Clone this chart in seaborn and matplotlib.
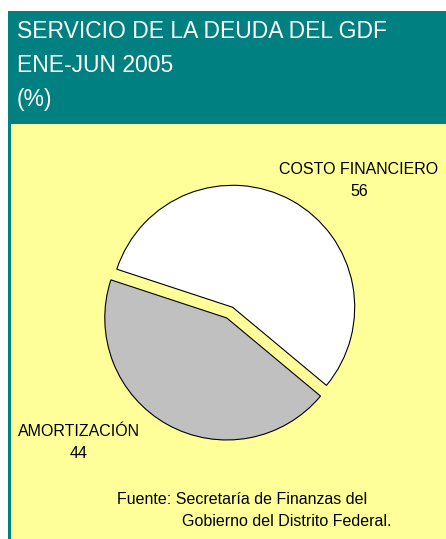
import matplotlib
matplotlib.use("Agg")
import matplotlib.pyplot as plt
from matplotlib.patches import Rectangle
import seaborn as sns

# data
categories = ["COSTO FINANCIERO", "AMORTIZACIÓN"]
shares = [56, 44]
slice_colors = ["#FFFFFF", "#C0C0C0"]
explode = [0.0, 0.1]

title_lines = ["SERVICIO DE LA DEUDA DEL GDF", "ENE-JUN 2005", "(%)"]
source_lines = ["Fuente: Secretaría de Finanzas del", "Gobierno del Distrito Federal."]

W, H = 446, 539
TEAL = "#008080"
YELLOW = "#FFFF99"

sns.set_theme(style="white")
plt.rcParams["font.family"] = ["Liberation Sans", "DejaVu Sans"]


def fx(px):
    return px / W


def fy(py):
    return 1 - py / H


fig = plt.figure(figsize=(W / 100, H / 100), dpi=100)
fig.patch.set_facecolor("white")

# frame: teal header + border, yellow body (kept behind the pie axes)
fig.patches.append(Rectangle((fx(8), 0), 1 - fx(8), fy(11), transform=fig.transFigure,
                             facecolor=TEAL, edgecolor="none", zorder=-10))
fig.patches.append(Rectangle((fx(11), 0), 1 - fx(11), fy(124), transform=fig.transFigure,
                             facecolor=YELLOW, edgecolor="none", zorder=-9))

for i, line in enumerate(title_lines):
    fig.text(fx(17), fy(38 + i * 34), line, color="white", fontsize=16.5,
             ha="left", va="baseline")

# pie axes: centre at (232.7, 307.3) px, radius 122 px
cx, cy, r = 232.7, 307.3, 122
span = 1.5 * r
ax = fig.add_axes([fx(cx - span), fy(cy + span), 2 * span / W, 2 * span / H])
ax.set_facecolor("none")
ax.pie(shares, colors=slice_colors, explode=explode, startangle=-39.8,
       counterclock=True,
       wedgeprops=dict(edgecolor="black", linewidth=0.8))
ax.set_xlim(-1.5, 1.5)
ax.set_ylim(-1.5, 1.5)
ax.set_aspect("auto")
ax.axis("off")

# slice labels
lab = dict(fontsize=11.5, ha="center", va="center", color="black")
fig.text(fx(359), fy(169), categories[0], **lab)
fig.text(fx(359), fy(191), str(shares[0]), **lab)
fig.text(fx(79), fy(432), categories[1], **lab)
fig.text(fx(79), fy(453), str(shares[1]), **lab)

fig.text(fx(117), fy(500), source_lines[0], fontsize=11.5, ha="left", va="center", color="black")
fig.text(fx(182), fy(522), source_lines[1], fontsize=11.5, ha="left", va="center", color="black")

fig.savefig("out.png", dpi=100, facecolor=fig.get_facecolor())
